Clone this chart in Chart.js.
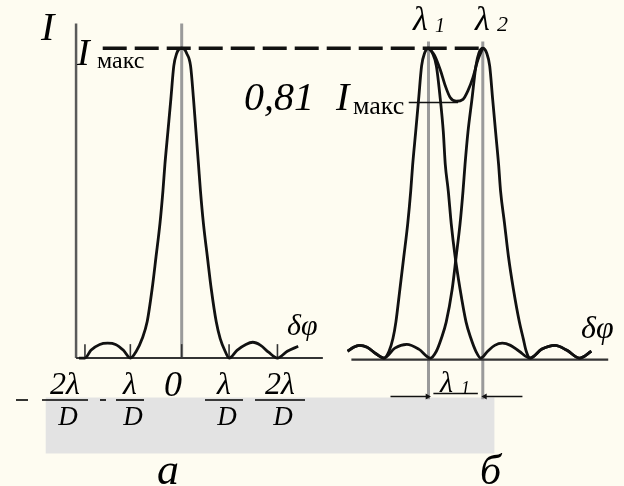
<!DOCTYPE html>
<html>
<head>
<meta charset="utf-8">
<script src="https://cdn.jsdelivr.net/npm/chart.js@4.4.0/dist/chart.umd.min.js"></script>
<style>
html, body { margin: 0; padding: 0; background: #fefcf1; }
canvas { display: block; }
</style>
</head>
<body>
<canvas id="c" width="624" height="486"></canvas>
<script>
// panel a: one line, x in lambda/D, y = I / Imax
const aX = [-2.08, -1.96, -1.84, -1.66, -1.5, -1.34, -1.18, -1.04,
  -0.92, -0.8, -0.7, -0.6, -0.52, -0.44, -0.38, -0.34, -0.28, -0.22, -0.16, -0.1, -0.06, 0,
  0.06, 0.1, 0.18, 0.24, 0.29, 0.34, 0.38, 0.44, 0.52, 0.6, 0.7, 0.78, 0.88, 0.96,
  1.12, 1.3, 1.44, 1.6, 1.76, 1.94, 2.14, 2.36];
const aY = [0, 0, 0.025, 0.044, 0.048, 0.044, 0.025, 0,
  0.022, 0.063, 0.117, 0.222, 0.327, 0.435, 0.54, 0.625, 0.73, 0.835, 0.943, 0.984, 0.996, 1,
  0.996, 0.984, 0.943, 0.835, 0.73, 0.625, 0.54, 0.435, 0.327, 0.222, 0.117, 0.063, 0.022, 0,
  0.025, 0.044, 0.051, 0.041, 0.019, 0, 0.022, 0.038];
const aMinima = [-1.96, -1.04, 0, 0.96, 1.94];

// panel b: two lines lambda1 (at 0) and lambda2 (at 1)
const b1X = [-1.49, -1.38, -1.27, -1.13, -0.96, -0.82,
  -0.727, -0.655, -0.6, -0.527, -0.455, -0.382, -0.327, -0.291, -0.236, -0.182, -0.127, -0.073, 0,
  0.073, 0.145, 0.218, 0.273, 0.309, 0.364, 0.418, 0.491, 0.582, 0.691, 0.782, 0.873, 0.964,
  1.09, 1.22, 1.36, 1.51, 1.67, 1.87, 2.09, 2.33, 2.55, 2.78, 3.0];
const b1Y = [0.022, 0.035, 0.041, 0.035, 0.013, 0,
  0.022, 0.063, 0.117, 0.222, 0.327, 0.435, 0.54, 0.625, 0.73, 0.835, 0.943, 0.984, 1,
  0.984, 0.943, 0.835, 0.73, 0.625, 0.54, 0.435, 0.327, 0.222, 0.117, 0.063, 0.022, 0,
  0.022, 0.041, 0.048, 0.041, 0.022, 0, 0.029, 0.041, 0.025, 0, 0.022];
const b2X = [-1.49, -1.38, -1.27, -1.13, -0.96, -0.82, -0.62, -0.4, -0.18, 0.036,
  0.145, 0.236, 0.327, 0.436, 0.509, 0.582, 0.636, 0.673, 0.727, 0.8, 0.873, 0.927, 1,
  1.073, 1.127, 1.182, 1.236, 1.291, 1.327, 1.4, 1.473, 1.564, 1.673, 1.745, 1.8, 1.873,
  2.09, 2.33, 2.55, 2.78, 3.0];
const b2Y = [0.022, 0.035, 0.041, 0.035, 0.013, 0, 0.032, 0.044, 0.029, 0,
  0.022, 0.063, 0.117, 0.222, 0.327, 0.435, 0.54, 0.625, 0.73, 0.835, 0.943, 0.984, 1,
  0.984, 0.943, 0.835, 0.73, 0.625, 0.54, 0.435, 0.327, 0.222, 0.117, 0.063, 0.022, 0,
  0.029, 0.041, 0.025, 0, 0.022];
// summed intensity between the two maxima
const sumX = [0, 0.109, 0.218, 0.309, 0.4, 0.509, 0.636, 0.727, 0.818, 0.909, 1];
const sumY = [1, 0.978, 0.93, 0.879, 0.841, 0.829, 0.835, 0.863, 0.905, 0.962, 1];
const dipLevel = 0.825;

const tickNums = ['2λ', 'λ', '0', 'λ', '2λ'];
const tickSigns = ['-', '-', '', '', ''];

const pts = (xs, ys) => xs.map((x, i) => ({ x: x, y: ys[i] }));
const seg = (x0, x1, y0, y1) => [{ x: x0, y: y0 }, { x: x1, y: y1 }];

const curve = {
  borderColor: '#111',
  borderWidth: 2.8,
  pointRadius: 0,
  cubicInterpolationMode: 'monotone',
  fill: false
};
const thin = (col, w) => ({ borderColor: col, borderWidth: w, pointRadius: 0, fill: false, tension: 0 });

const datasets = [
  // panel a
  Object.assign({ data: pts(aX, aY), order: 1 }, curve),
  Object.assign({ data: seg(-2.14, -2.14, 0, 1.08), order: 4 }, thin('#5a5a5a', 2.5)),
  Object.assign({ data: seg(0, 0, 0, 1.08), order: 5 }, thin('#9a9a9a', 3)),
  Object.assign({ data: seg(-2.14, 2.86, 0, 0), order: 3 }, thin('#333', 2)),
  Object.assign({ data: seg(-1.6, 6.1, 1, 1), order: 2, borderDash: [24, 8] }, thin('#111', 3.6))
];
aMinima.forEach(m => {
  datasets.push(Object.assign({ data: seg(m, m, 0, 0.045), order: 3 }, thin('#333', 1.6)));
});
// panel b
datasets.push(
  Object.assign({ data: pts(b1X, b1Y), xAxisID: 'x2', order: 1 }, curve),
  Object.assign({ data: pts(b2X, b2Y), xAxisID: 'x2', order: 1 }, curve),
  Object.assign({ data: pts(sumX, sumY), xAxisID: 'x2', order: 1 }, curve),
  Object.assign({ data: seg(0, 0, -0.133, 1.022), xAxisID: 'x2', order: 5 }, thin('#9a9a9a', 3)),
  Object.assign({ data: seg(1, 1, -0.133, 1.022), xAxisID: 'x2', order: 5 }, thin('#9a9a9a', 3)),
  Object.assign({ data: seg(-1.42, 3.31, -0.005, -0.005), xAxisID: 'x2', order: 3 }, thin('#333', 2.2)),
  Object.assign({ data: seg(-0.364, 0.545, dipLevel, dipLevel), xAxisID: 'x2', order: 2 }, thin('#111', 1.5)),
  Object.assign({ data: seg(0.09, 0.909, -0.114, -0.114), xAxisID: 'x2', order: 2 }, thin('#111', 1.5)),
  Object.assign({ data: seg(-0.7, -0.02, -0.124, -0.124), xAxisID: 'x2', order: 2,
    pointRadius: [0, 3.5], pointStyle: 'triangle', pointRotation: [0, 90],
    pointBackgroundColor: '#111', pointBorderWidth: 0 }, thin('#111', 1.3), { pointRadius: [0, 3.5] }),
  Object.assign({ data: seg(1.73, 1.04, -0.124, -0.124), xAxisID: 'x2', order: 2,
    pointStyle: 'triangle', pointRotation: [0, -90],
    pointBackgroundColor: '#111', pointBorderWidth: 0 }, thin('#111', 1.3), { pointRadius: [0, 3.5] })
);
// grey box under the tick labels
datasets.push({
  data: seg(-2.76, 6.34, -0.127, -0.127),
  order: 9,
  borderWidth: 0,
  pointRadius: 0,
  backgroundColor: '#e3e3e3',
  fill: { value: -0.308 }
});

const serif = '"Liberation Serif", "DejaVu Serif", serif';
const labelPlugin = {
  id: 'labels',
  afterDatasetsDraw(chart) {
    const ctx = chart.ctx;
    ctx.save();
    ctx.fillStyle = '#000';
    ctx.strokeStyle = '#000';
    ctx.textBaseline = 'alphabetic';
    function txt(s, x, y, size, italic, align) {
      ctx.font = (italic ? 'italic ' : '') + size + 'px ' + serif;
      ctx.textAlign = align || 'left';
      ctx.fillText(s, x, y);
    }
    function bar(x0, x1, y) {
      ctx.lineWidth = 1.6;
      ctx.beginPath();
      ctx.moveTo(x0, y);
      ctx.lineTo(x1, y);
      ctx.stroke();
    }
    txt('I', 41, 40, 40, true);
    txt('I', 77, 65, 38, true);
    txt('макс', 97, 68, 24, false);
    txt('0,81', 244, 110, 40, true);
    txt('I', 336, 110, 40, true);
    txt('макс', 353, 114, 26, false);
    txt('λ', 413, 30, 34, true);
    txt('1', 435, 32, 20, true);
    txt('λ', 475, 30, 34, true);
    txt('2', 497, 31, 22, true);
    txt('δφ', 287, 335, 30, true);
    txt('δφ', 581, 338, 32, true);

    // tick labels of panel a
    const centers = [65, 130, 173, 224, 280];
    const barW = [46, 28, 0, 38, 50];
    tickNums.forEach((s, i) => {
      if (i === 2) { txt(s, centers[i], 396, 36, true, 'center'); return; }
      txt(s, centers[i], 394, 32, true, 'center');
      bar(centers[i] - barW[i] / 2, centers[i] + barW[i] / 2, 400);
      txt('D', centers[i] + 3, 425, 27, true, 'center');
      if (tickSigns[i]) bar(centers[i] - barW[i] / 2 - 26 + (i === 1 ? 10 : 0), centers[i] - barW[i] / 2 - 14 + (i === 1 ? 4 : 0), 400);
    });
    txt('λ', 440, 392, 30, true);
    txt('1', 461, 394, 18, true);
    txt('а', 157, 484, 44, true);
    txt('б', 480, 484, 42, true);
    ctx.restore();
  }
};

new Chart(document.getElementById('c'), {
  type: 'line',
  data: { datasets: datasets },
  options: {
    responsive: false,
    animation: false,
    layout: { padding: 0 },
    plugins: { legend: { display: false }, tooltip: { enabled: false } },
    scales: {
      x: { type: 'linear', min: -3.6, max: 8.88, display: false },
      x2: { type: 'linear', axis: 'x', position: 'bottom', min: -7.818, max: 3.527, display: false },
      y: { type: 'linear', min: -0.4, max: 1.142857, display: false }
    }
  },
  plugins: [labelPlugin]
});
</script>
</body>
</html>
